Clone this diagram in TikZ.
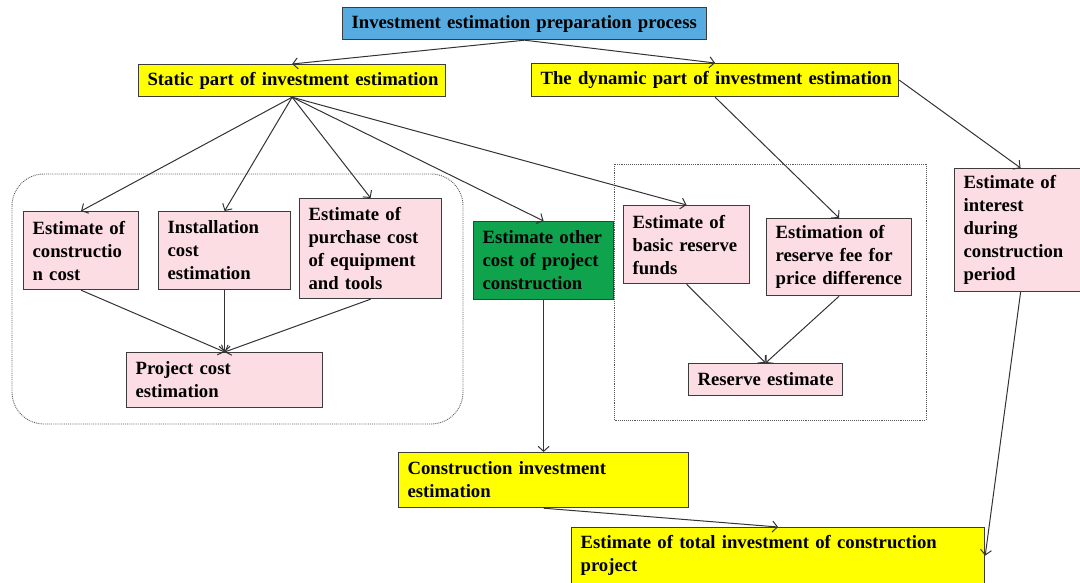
\documentclass[tikz,border=0pt]{standalone}
\usepackage{fontspec}
\setmainfont{Liberation Serif}
\usetikzlibrary{arrows.meta}
\definecolor{boxblue}{RGB}{86,172,224}
\definecolor{boxyellow}{RGB}{255,255,0}
\definecolor{boxpink}{RGB}{251,221,227}
\definecolor{boxgreen}{RGB}{14,163,76}
\definecolor{boxline}{RGB}{60,60,60}
\definecolor{connline}{RGB}{50,50,55}
\definecolor{framegray}{RGB}{90,90,90}
\newcommand\oneline[1]{\mbox{#1}}
\begin{document}
\begin{tikzpicture}[x=1pt,y=-1pt,
  box/.style={draw=boxline, line width=1.2pt, anchor=north west, align=left,
    inner xsep=9pt, inner ysep=0pt, text=black,
    font=\bfseries\fontsize{18.7}{23}\selectfont,
    execute at begin node={\hyphenpenalty=10000\exhyphenpenalty=10000}},
  pinkbox/.style={box, fill=boxpink},
  yellowbox/.style={box, fill=boxyellow},
  conn/.style={draw=connline, line width=1pt, -{Straight Barb[length=5pt,width=11pt]}},
  frame/.style={draw=framegray, line width=0.9pt, densely dotted}]
\useasboundingbox (0,0) rectangle (1080,583);

% group frames
\draw[frame, rounded corners=32pt] (12,174) rectangle (463,424);
\draw[frame] (614,164) rectangle (926,420);

% nodes
\node[box, fill=boxblue, text width=346pt, minimum height=32pt] (top) at (342,7)
  {\oneline{Investment estimation preparation process}};
\node[yellowbox, text width=289pt, minimum height=32pt] (static) at (138,64)
  {\oneline{Static part of investment estimation}};
\node[yellowbox, text width=349pt, minimum height=33pt] (dyn) at (531,63)
  {\oneline{The dynamic part of investment estimation}};
\node[pinkbox, text width=97pt, minimum height=78pt] (cc) at (23,211)
  {\oneline{Estimate of}\\\oneline{constructio}\\\oneline{n cost}};
\node[pinkbox, text width=114pt, minimum height=78pt] (inst) at (158,211)
  {\oneline{Installation}\\\oneline{cost}\\\oneline{estimation}};
\node[pinkbox, text width=124pt, minimum height=100pt] (purch) at (299,198)
  {\oneline{Estimate of}\\\oneline{purchase cost}\\\oneline{of equipment}\\\oneline{and tools}};
\node[box, fill=boxgreen, text width=122pt, minimum height=78pt] (green) at (473,221)
  {\oneline{Estimate other}\\\oneline{cost of project}\\\oneline{construction}};
\node[pinkbox, text width=178pt, minimum height=55pt] (proj) at (126,352)
  {\oneline{Project cost}\\\oneline{estimation}};
\node[pinkbox, text width=108pt, minimum height=78pt] (basic) at (623,205)
  {\oneline{Estimate of}\\\oneline{basic reserve}\\\oneline{funds}};
\node[pinkbox, text width=127pt, minimum height=77pt] (price) at (766,218)
  {\oneline{Estimation of}\\\oneline{reserve fee for}\\\oneline{price difference}};
\node[pinkbox, text width=136pt, minimum height=32pt] (reserve) at (688,363)
  {\oneline{Reserve estimate}};
\node[pinkbox, text width=114pt, minimum height=123pt] (interest) at (954,168)
  {\oneline{Estimate of}\\\oneline{interest}\\\oneline{during}\\\oneline{construction}\\\oneline{period}};
\node[yellowbox, text width=272pt, minimum height=55pt] (cinv) at (398,452)
  {\oneline{Construction investment}\\\oneline{estimation}};
\node[yellowbox, text width=395pt, minimum height=56pt] (total) at (571,527)
  {\oneline{Estimate of total investment of construction}\\\oneline{project}};

% connectors
\draw[conn] (top.south) -- (static.north);
\draw[conn] (top.south) -- (dyn.north);
\draw[conn] (static.south) -- (cc.north);
\draw[conn] (static.south) -- (inst.north);
\draw[conn] (static.south) -- (purch.north);
\draw[conn] (static.south) -- (green.north);
\draw[conn] (static.south) -- (basic.north);
\draw[conn] (dyn.south) -- (price.north);
\draw[conn] (dyn.east) -- (interest.north);
\draw[conn] (cc.south) -- (proj.north);
\draw[conn] (inst.south) -- (proj.north);
\draw[conn] (purch.south) -- (proj.north);
\draw[conn] (basic.south) -- (reserve.north);
\draw[conn] (price.south) -- (reserve.north);
\draw[conn] (green.south) -- (cinv.north);
\draw[conn] (cinv.south) -- (total.north);
\draw[conn] (interest.south) -- (total.east);
\end{tikzpicture}
\end{document}
